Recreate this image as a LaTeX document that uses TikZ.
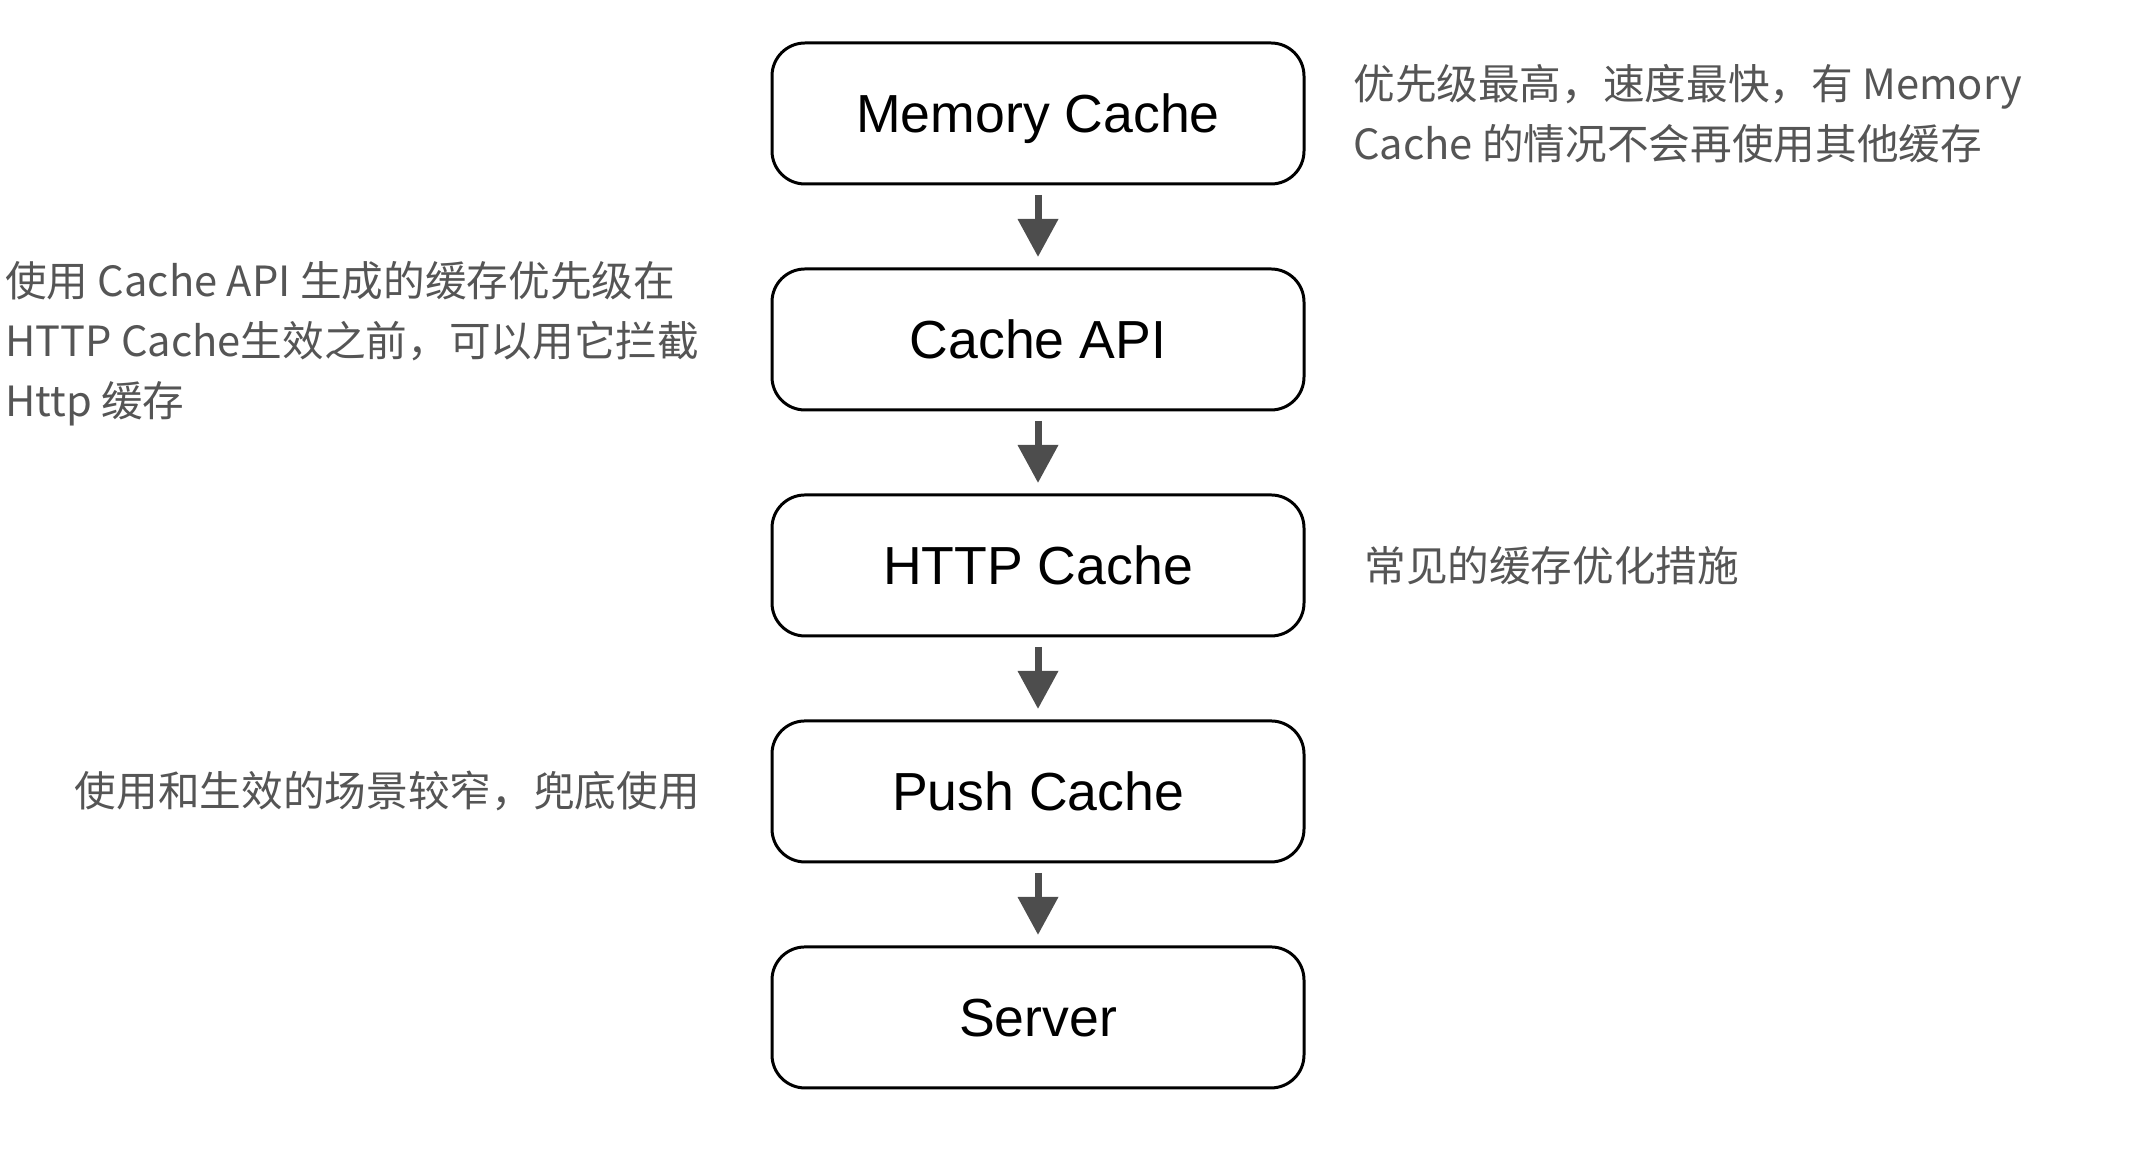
\documentclass[tikz,border=0pt]{standalone}
\usepackage{fontspec}
\setmainfont{Liberation Sans}
\newfontfamily\cjk{Noto Sans CJK SC}
\usepackage{tikz}
\usetikzlibrary{
  arrows.meta,
  positioning,
}
\tikzstyle{layer} = [
  draw,
  rectangle,
  rounded corners=0.66cm,
  line width=1.7pt,
  minimum width=10.64cm,
  minimum height=2.82cm,
  text depth=0pt,
  font=\fontsize{30.5}{36}\selectfont,
]
\tikzstyle{note} = [
  inner sep=0pt,
  align=left,
  text=notegray,
  font=\cjk\fontsize{23.7}{34.1}\selectfont,
]
\tikzstyle{flow} = [
  -{Triangle[width=0.78cm,length=0.76cm]},
  line width=0.14cm,
  arrowgray,
  shorten >=0.21cm,
  shorten <=0.19cm,
]
\definecolor{notegray}{RGB}{85, 85, 85}
\definecolor{arrowgray}{RGB}{77, 77, 77}

\begin{document}
\begin{tikzpicture}[node distance=1.64cm]
      \useasboundingbox (0,0) rectangle (42.68,23.12);

      \node[layer]    (mem)    at (20.76,20.85)    {Memory Cache};
      \node[layer]    (api)    [below=of mem]      {Cache API};
      \node[layer]    (http)   [below=of api]      {HTTP Cache};
      \node[layer]    (push)   [below=of http]     {Push Cache};
      \node[layer]    (server) [below=of push]     {Server};

      \foreach \a/\b in {mem/api, api/http, http/push, push/server}
        \draw[flow] (\a) -- (\b);

      \node[note,right=0.95cm of mem]    (memnote)    {优先级最高，速度最快，有 Memory\\Cache 的情况不会再使用其他缓存};
      \coordinate (lm) at (0.1,0);
      \node[note,anchor=west,yshift=-0.08cm]    (apinote)    at (lm |- api)    {使用 Cache API 生成的缓存优先级在\\HTTP Cache生效之前，可以用它拦截\\Http 缓存};
      \node[note,right=1.17cm of http]    (httpnote)    {常见的缓存优化措施};
      \node[note,left=1.41cm of push]    (pushnote)    {使用和生效的场景较窄，兜底使用};

    \end{tikzpicture}
\end{document}
